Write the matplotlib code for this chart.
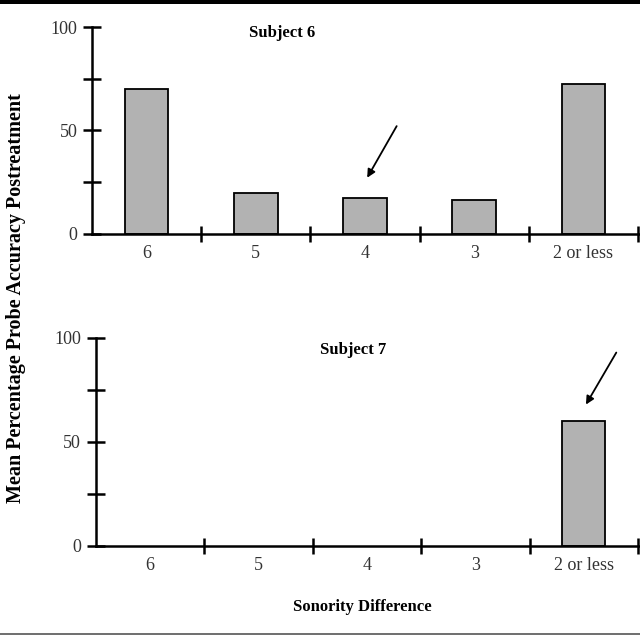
import matplotlib
matplotlib.use("Agg")
import matplotlib.pyplot as plt
from matplotlib.patches import Rectangle

plt.rcParams['font.family'] = ['Liberation Serif', 'DejaVu Serif']

categories = ["6", "5", "4", "3", "2 or less"]
subject6 = [70, 19.5, 17, 16, 72.5]
subject7 = [0, 0, 0, 0, 60]
titles = ["Subject 6", "Subject 7"]
ylabel = "Mean Percentage Probe Accuracy Postreatment"
xlabel = "Sonority Difference"

W, H = 640, 637
fig = plt.figure(figsize=(W / 100, H / 100), dpi=100)

def fx(px):
    return px / W

def fy(py):
    return 1 - py / H

# top black band and bottom rule
fig.patches.append(Rectangle((0, fy(4)), 1, 4 / H, transform=fig.transFigure,
                             facecolor='black', edgecolor='none'))
fig.add_artist(plt.Line2D([0, 1], [fy(634), fy(634)], transform=fig.transFigure,
                          color='#555555', lw=1.2))

panels = [
    dict(values=subject6, left=92, y0=233.5, y100=27, title=titles[0],
         tpos=(1.74, 97), arrow=((2.79, 52), (2.52, 27))),
    dict(values=subject7, left=95.5, y0=546, y100=338, title=titles[1],
         tpos=(2.37, 94), arrow=((4.80, 93), (4.52, 68))),
]

for p in panels:
    left = p['left']
    step = (638 - left) / 5.0
    ax = fig.add_axes([fx(left), fy(p['y0']), (W - left) / W, (p['y0'] - p['y100']) / H])
    xs = [i + 0.5 for i in range(len(categories))]
    heights = p['values']
    show = [h > 0 for h in heights]
    ax.bar([x for x, s in zip(xs, show) if s], [h for h, s in zip(heights, show) if s],
           width=0.4, color='#b2b2b2', edgecolor='black', linewidth=1.3, zorder=2)
    ax.set_xlim(0, (W - left) / step)
    ax.set_ylim(0, 100)
    for s in ['top', 'right']:
        ax.spines[s].set_visible(False)
    for s in ['left', 'bottom']:
        ax.spines[s].set_linewidth(1.8)
        ax.spines[s].set_zorder(3)
    ax.set_yticks([0, 25, 50, 75, 100])
    ax.set_yticklabels(["0", "", "50", "", "100"])
    ax.set_xticks([1, 2, 3, 4, 5])
    ax.set_xticklabels([])
    ax.set_xticks(xs, minor=True)
    ax.set_xticklabels(categories, minor=True)
    ax.tick_params(axis='y', direction='inout', length=13, width=1.8, labelsize=13, pad=4)
    ax.tick_params(axis='x', which='major', direction='inout', length=11, width=1.8)
    ax.tick_params(axis='x', which='minor', length=0, labelsize=13, pad=8)
    for lab in ax.get_xticklabels(minor=True) + ax.get_yticklabels():
        lab.set_color('#333333')
    ax.text(p['tpos'][0], p['tpos'][1], p['title'], ha='center', va='center',
            fontsize=12, fontweight='bold')
    (sx, sy), (tx, ty) = p['arrow']
    ax.annotate('', xy=(tx, ty), xytext=(sx, sy),
                arrowprops=dict(arrowstyle='-|>', color='black', lw=1.3,
                                mutation_scale=12, shrinkA=0, shrinkB=0))
    ax.patch.set_alpha(0)

fig.text(fx(362), fy(607), xlabel, ha='center', va='center', fontsize=12, fontweight='bold')
fig.text(fx(16), fy(298), ylabel, ha='center', va='center', rotation=90,
         fontsize=14.5, fontweight='bold')

fig.savefig("out.png", dpi=100)
